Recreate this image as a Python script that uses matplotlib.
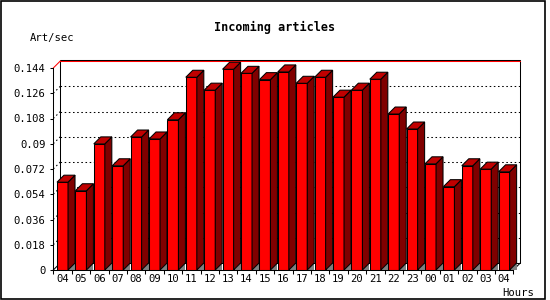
import matplotlib
matplotlib.use('Agg')
import matplotlib.pyplot as plt
from matplotlib.patches import Polygon, Rectangle

hours = ['04', '05', '06', '07', '08', '09', '10', '11', '12', '13', '14', '15', '16',
         '17', '18', '19', '20', '21', '22', '23', '00', '01', '02', '03', '04']
art_per_sec = [0.0626, 0.0565, 0.0899, 0.0743, 0.0948, 0.0934, 0.1071, 0.1374, 0.1282,
               0.1431, 0.1402, 0.1357, 0.1412, 0.1331, 0.1374, 0.1232, 0.1282, 0.1360,
               0.1112, 0.1005, 0.0757, 0.0594, 0.0743, 0.0719, 0.0700]
yticks = [0, 0.018, 0.036, 0.054, 0.072, 0.09, 0.108, 0.126, 0.144]
ytick_labels = ['0', '0.018', '0.036', '0.054', '0.072', '0.09', '0.108', '0.126', '0.144']

plt.rcParams['font.family'] = ['DejaVu Sans Mono']

W, H = 550, 300
fig = plt.figure(figsize=(W / 100, H / 100), dpi=100)
ax_l, ax_b, ax_w, ax_h = 53.3, 270, 460, 202
ax = fig.add_axes([ax_l / W, (H - ax_b) / H, ax_w / W, ax_h / H])

n = len(hours)
ymax = yticks[-1]
ax.set_xlim(0, n)
ax.set_ylim(0, ymax)

# pixel -> data units for the 3d depth
px_x = n / ax_w
px_y = ymax / ax_h
dx = 7 * px_x
dy = 7 * px_y

red = '#ff0000'
side = '#800000'
top = '#c00000'
lw = 0.75

# back plane
ax.add_patch(Rectangle((dx, dy), n, ymax + px_y, fill=False, edgecolor='black',
                       lw=lw, clip_on=False, zorder=1))
for v in yticks[1:-1]:
    ax.plot([dx, n + dx], [v + dy, v + dy], color='black', lw=lw,
            ls=(0, (1.5, 2.5)), clip_on=False, zorder=1)
    ax.plot([0, dx], [v, v + dy], color='black', lw=lw,
            ls=(0, (1.5, 2.5)), clip_on=False, zorder=1)
ax.plot([dx, n + dx], [ymax + dy, ymax + dy], color=red, lw=lw, clip_on=False, zorder=1)
ax.plot([0, dx], [ymax, ymax + dy], color=red, lw=lw, clip_on=False, zorder=1)
ax.plot([0, dx], [0, dy], color='black', lw=lw, clip_on=False, zorder=1)
ax.plot([n, n + dx], [0, dy], color='black', lw=lw, clip_on=False, zorder=1)

# bars
bw = 0.6
xs = [i + 0.5 for i in range(n)]
ax.bar(xs, art_per_sec, width=bw, color=red, edgecolor='black', lw=lw, zorder=3)
for x, v in zip(xs, art_per_sec):
    xl, xr = x - bw / 2, x + bw / 2
    ax.add_patch(Polygon([(xr, 0), (xr + dx, 0), (xr + dx, dy)], closed=True,
                         facecolor='#808080', edgecolor='none', zorder=2, clip_on=False))
    ax.add_patch(Polygon([(xr, 0), (xr + dx, dy), (xr + dx, v + dy), (xr, v)], closed=True,
                         facecolor=side, edgecolor='black', lw=lw, zorder=3, clip_on=False))
    ax.add_patch(Polygon([(xl, v), (xl + dx, v + dy), (xr + dx, v + dy), (xr, v)], closed=True,
                         facecolor=top, edgecolor='black', lw=lw, zorder=3, clip_on=False))

# axes
for s in ['top', 'right']:
    ax.spines[s].set_visible(False)
for s in ['left', 'bottom']:
    ax.spines[s].set_linewidth(lw)
    ax.spines[s].set_zorder(4)
ax.patch.set_visible(False)

ax.set_yticks(yticks)
ax.set_yticklabels(ytick_labels)
ax.tick_params(axis='y', length=2.2, width=lw, pad=3.5, labelsize=7.6)
ax.set_xticks(range(n + 1))
ax.set_xticklabels([])
ax.tick_params(axis='x', which='major', length=3, width=lw)
ax.set_xticks(xs, minor=True)
ax.set_xticklabels(hours, minor=True)
ax.tick_params(axis='x', which='minor', length=0, pad=3.2, labelsize=7.6)

fig.text(275 / W, 1 - 27.3 / H, 'Incoming articles', ha='center', va='center',
         fontsize=8.5, fontweight='bold')
fig.text(30 / W, 1 - 37.5 / H, 'Art/sec', ha='left', va='center', fontsize=7.6)
fig.text(534 / W, 1 - 292.5 / H, 'Hours', ha='right', va='center', fontsize=7.6)

fig.patches.append(Rectangle((0.5 / W, 1.5 / H), 544 / W, 298 / H, transform=fig.transFigure,
                             fill=False, edgecolor='black', lw=1.2))

fig.savefig('out.png', dpi=100)
